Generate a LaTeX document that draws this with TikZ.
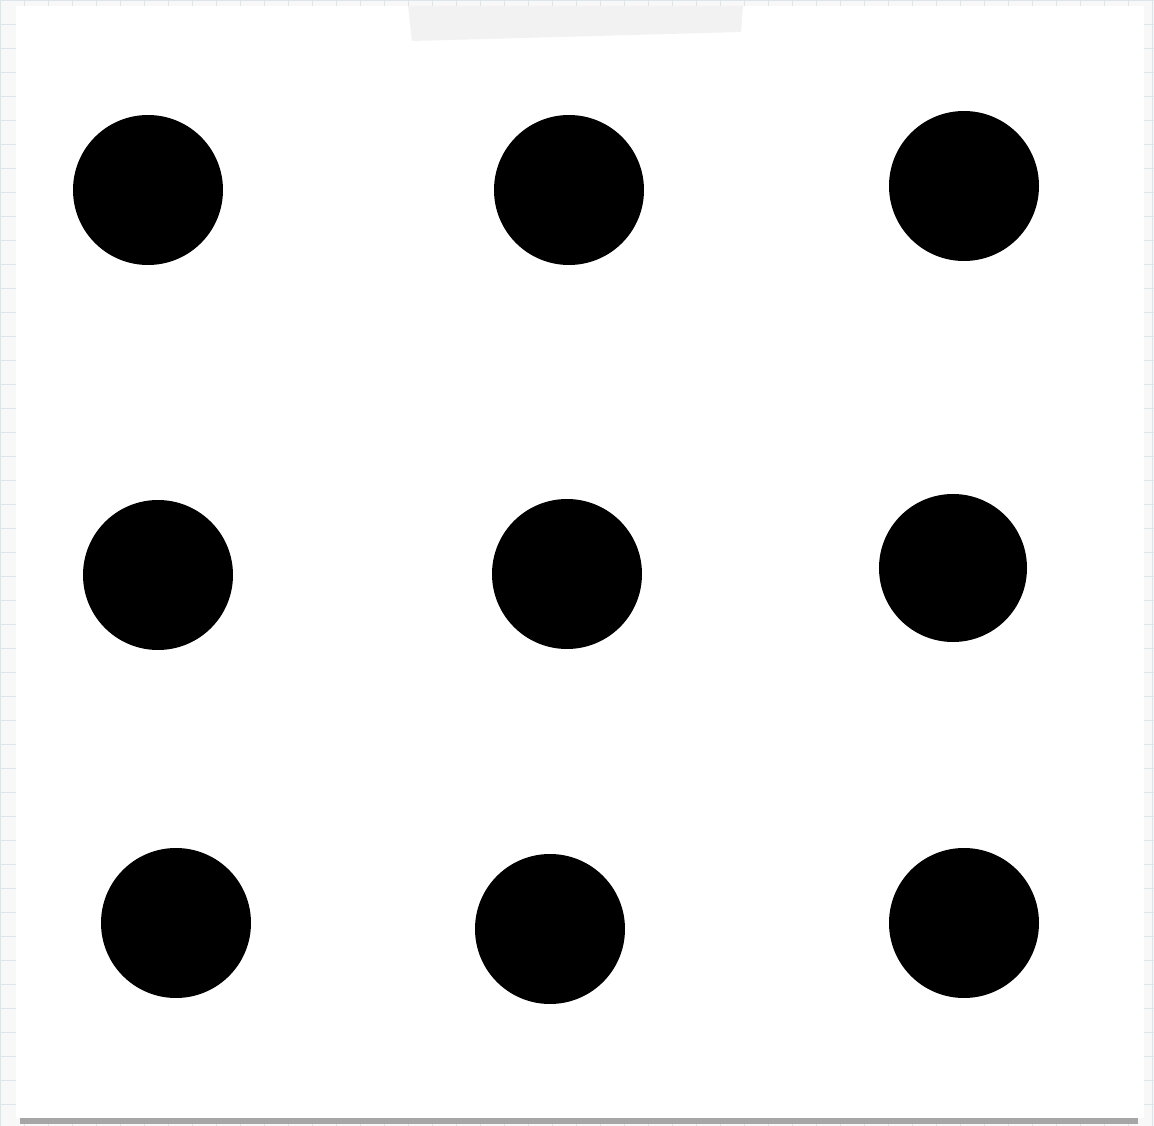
\documentclass[tikz,border=0pt]{standalone}
\usetikzlibrary{positioning}
\tikzset{
  dot/.style={circle,fill=black,inner sep=0pt,minimum size=3cm},
  paper/.style={fill=white},
  tape/.style={fill=gray!10},
}
\begin{document}
\begin{tikzpicture}[x=0.2mm,y=-0.2mm]
				\useasboundingbox (0,0) rectangle (1154,1126);
				\fill[cyan!4!gray!6] (0,0) rectangle (1154,1126);
				\draw[cyan!25!gray!25,step=4.8mm,line width=0.5pt] (0,0) grid (1154,1126);
				\fill[gray!70] (20,1112) rectangle (1138,1124);
				\fill[paper] (16,6) rectangle (1144,1118);
				\fill[tape] (408,6) -- (743,6) -- (741,32) -- (412,41) -- cycle;
				\path
				(148,190) node[dot] (A1) {}
				(569,190) node[dot] (A2) {}
				(964,186) node[dot] (A3) {}
				(158,575) node[dot] (B1) {}
				(567,574) node[dot] (B2) {}
				(953,568) node[dot,minimum size=2.96cm] (B3) {}
				(176,923) node[dot] (C1) {}
				(550,929) node[dot] (C2) {}
				(964,923) node[dot] (C3) {};
			\end{tikzpicture}
\end{document}
